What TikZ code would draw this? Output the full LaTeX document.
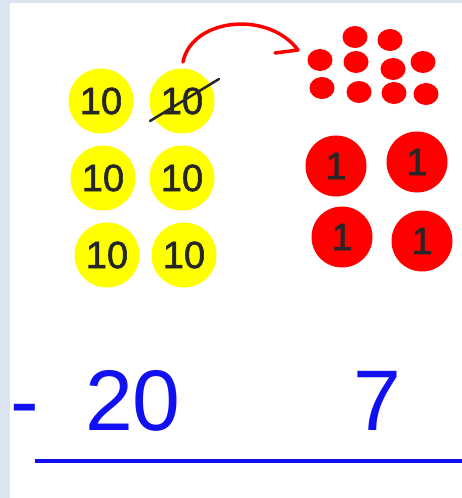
\documentclass[tikz,border=0pt]{standalone}
\usepackage{fontspec}
\setmainfont{Liberation Sans}
\newfontfamily\chipfont[FakeBold=1.5]{Liberation Sans}
\usetikzlibrary{arrows.meta,shapes.geometric}
\definecolor{bgblue}{HTML}{DCE6F2}
\definecolor{tenyellow}{HTML}{FFFF00}
\definecolor{onered}{HTML}{FF0000}
\definecolor{sumblue}{HTML}{1010F0}
\tikzset{
  ten/.style={circle, fill=tenyellow, minimum size=65pt, inner sep=0pt, font=\chipfont\fontsize{38}{40}\selectfont, text=black!85},
  one/.style={circle, fill=onered, minimum size=61pt, inner sep=0pt, font=\chipfont\fontsize{38}{40}\selectfont, text=black!85},
  dot/.style={ellipse, fill=onered, minimum width=25pt, minimum height=22pt, inner sep=0pt},
  sumtext/.style={text=sumblue, font=\fontsize{86}{90}\selectfont, inner sep=0pt, anchor=base},
}
\begin{document}
\begin{tikzpicture}[x=1pt,y=-1pt]
\fill[bgblue] (0,0) rectangle (462,498);
\fill[white] (10,3) rectangle (462,498);
\useasboundingbox (0,0) rectangle (462,498);
% tens
\node[ten] (y11) at (101,101) {10};
\node[ten] (y12) at (182,101) {10};
\node[ten] (y21) at (103,178) {10};
\node[ten] (y22) at (182,178) {10};
\node[ten] (y31) at (107,255) {10};
\node[ten] (y32) at (184,255) {10};
% strike
\coordinate (s1) at (150,121);
\coordinate (s2) at (219,79);
\draw[line width=2.5pt, black!85, line cap=round] (s1) -- (s2);
% arrow
\coordinate (a0) at (183,62);
\coordinate (a1) at (298,50);
\coordinate (a2) at (275,53);
\draw[onered, line width=3.5pt, line cap=round, line join=round] (a0) .. controls (192,18) and (268,10) .. (a1) -- (a2);
% small dots
\node[dot] (d1) at (355,37) {};
\node[dot] (d2) at (390,40) {};
\node[dot] (d3) at (320,60) {};
\node[dot] (d4) at (356,62) {};
\node[dot] (d5) at (393,69) {};
\node[dot] (d6) at (423,62) {};
\node[dot] (d7) at (322,88) {};
\node[dot] (d8) at (359,92) {};
\node[dot] (d9) at (394,93) {};
\node[dot] (d10) at (426,94) {};
% ones
\node[one] (r1) at (336,166) {1};
\node[one] (r2) at (417,162) {1};
\node[one] (r3) at (342,237) {1};
\node[one] (r4) at (422,241) {1};
% sum
\node[sumtext] (minus) at (25,430) {-};
\node[sumtext] (twenty) at (133,430) {20};
\node[sumtext] (seven) at (377,430) {7};
\coordinate (l1) at (35,461);
\coordinate (l2) at (462,461);
\draw[sumblue, line width=3.5pt] (l1) -- (l2);
\end{tikzpicture}
\end{document}
